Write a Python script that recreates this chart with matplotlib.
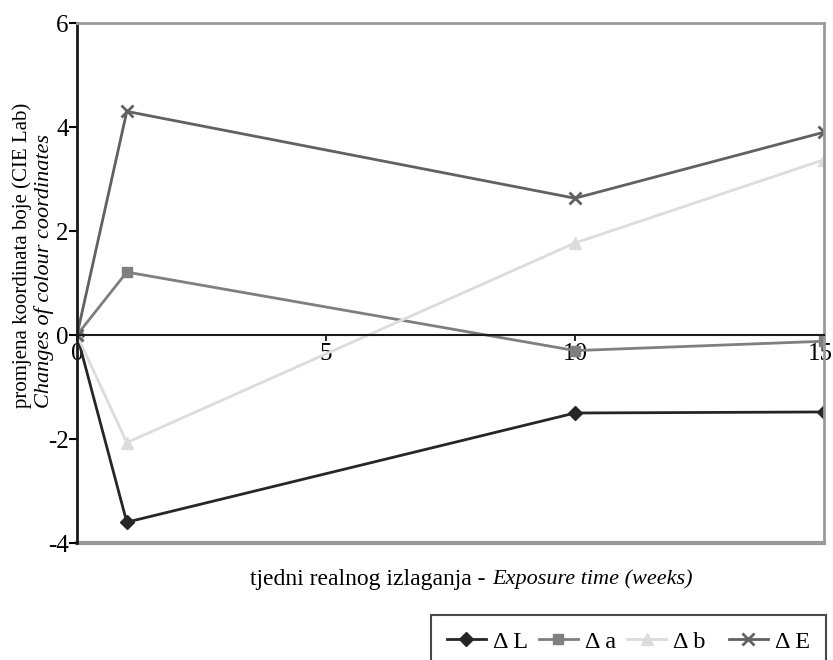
import matplotlib
matplotlib.use('Agg')
import matplotlib.pyplot as plt
import matplotlib.transforms as mtransforms

# Data
weeks = [0, 1, 10, 15]
delta_L = [0, -3.6, -1.5, -1.48]
delta_a = [0, 1.21, -0.3, -0.12]
delta_b = [0, -2.07, 1.77, 3.37]
delta_E = [0, 4.3, 2.63, 3.9]

x_ticks = [0, 5, 10, 15]
y_ticks = [-4, -2, 0, 2, 4, 6]

plt.rcParams['font.family'] = ['Liberation Serif', 'DejaVu Serif']
plt.rcParams['axes.unicode_minus'] = False

W, H = 833, 660
fig = plt.figure(figsize=(W / 100, H / 100), dpi=100)
ax = fig.add_axes([77 / W, 1 - 543 / H, (824 - 77) / W, (543 - 23) / H])

series = [
    ('Δ L', delta_L, '#262626', 'D', 7),
    ('Δ a', delta_a, '#7f7f7f', 's', 7),
    ('Δ b  ', delta_b, '#dcdcdc', '^', 8),
    ('Δ E', delta_E, '#616161', 'x', 8),
]
handles = []
for label, vals, col, mk, ms in series:
    h, = ax.plot(weeks, vals, color=col, marker=mk, markersize=ms,
                 markeredgewidth=2 if mk == 'x' else 1, linewidth=2, label=label)
    handles.append(h)

ax.set_xlim(0, 15)
ax.set_ylim(-4, 6)
ax.set_xticks(x_ticks)
ax.set_yticks(y_ticks)

# spines: left black, zero line black, box gray
ax.spines['bottom'].set_position(('data', 0))
ax.spines['bottom'].set_color('#1a1a1a')
ax.spines['bottom'].set_linewidth(1.5)
ax.spines['left'].set_color('#1a1a1a')
ax.spines['left'].set_linewidth(2)
for s in ['top', 'right']:
    ax.spines[s].set_color('#999999')
    ax.spines[s].set_linewidth(2)
ax.axhline(-4, color='#999999', linewidth=3, clip_on=False, zorder=0)

ax.tick_params(axis='x', direction='out', length=4, width=1.2, pad=2, labelsize=18)
ax.tick_params(axis='y', direction='out', length=6, width=1.5, pad=0, labelsize=18)

# nudge the last x label left so it stays inside the picture
last_lbl = ax.get_xticklabels()[-1]
last_lbl.set_transform(last_lbl.get_transform() +
                       mtransforms.ScaledTranslation(-4 / 100, 0, fig.dpi_scale_trans))

# axis titles
fig.text(486 / W, 1 - 579 / H, 'tjedni realnog izlaganja -',
         ha='right', va='center', fontsize=17)
fig.text(492 / W, 1 - 579 / H, 'Exposure time (weeks)',
         ha='left', va='center', fontsize=16, style='italic')
fig.text(22 / W, 1 - 408 / H, 'promjena koordinata boje (CIE Lab)',
         rotation=90, ha='center', va='bottom', fontsize=15)
fig.text(44 / W, 1 - 408 / H, 'Changes of colour coordinates',
         rotation=90, ha='center', va='bottom', fontsize=16, style='italic')

leg = fig.legend(handles=handles, loc='upper right', ncol=4,
                 bbox_to_anchor=(826 / W, 1 - 615 / H),
                 frameon=True, fancybox=False, fontsize=17.5,
                 handlelength=1.6, handletextpad=0.3, columnspacing=0.45,
                 borderpad=0.65, borderaxespad=0)
leg.get_frame().set_edgecolor('#1a1a1a')
leg.get_frame().set_linewidth(1.5)

plt.savefig('out.png', dpi=100)
